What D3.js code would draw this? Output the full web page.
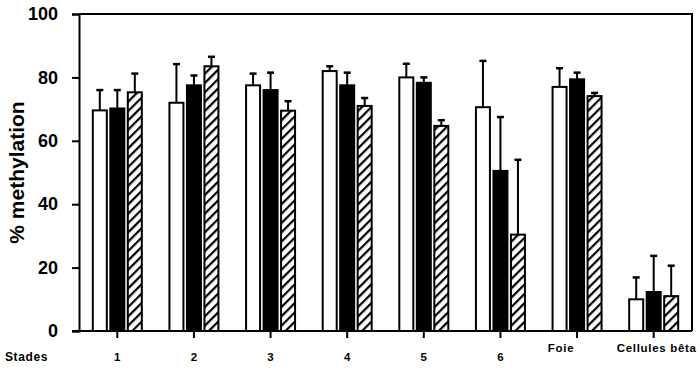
<!DOCTYPE html>
<html>
<head>
<meta charset="utf-8">
<title>% methylation</title>
<style>
body { margin: 0; background: #fff; }
svg text { font-family: "Liberation Sans", Arial, sans-serif; font-weight: bold; }
</style>
<script src="https://d3js.org/d3.v7.min.js"></script>
</head>
<body>
<div id="chart"></div>
<script>
// data
var groups = ['1', '2', '3', '4', '5', '6', 'Foie', 'Cellules bêta'];
var series = ['blanc', 'noir', 'hachure'];
var blanc = [69.6, 72, 77.5, 82, 80, 70.6, 77, 10];
var noir = [70.2, 77.5, 76, 77.5, 78.3, 50.5, 79.4, 12.3];
var hachure = [75.3, 83.5, 69.5, 71, 64.7, 30.4, 74.1, 11];
var blancErr = [76, 84.2, 81.2, 83.5, 84.3, 85.2, 82.9, 16.9];
var noirErr = [76, 80.6, 81.5, 81.5, 80, 67.5, 81.5, 23.7];
var hachureErr = [81.2, 86.5, 72.5, 73.5, 66.5, 54, 75.1, 20.6];
var yTicks = [0, 20, 40, 60, 80, 100];

var W = 700, H = 372;
// plot box (window.top is reserved, so use other names)
var pLeft = 79, pRight = 692, pTop = 14, pBottom = 331;

var svg = d3.select('#chart').append('svg')
    .attr('width', W)
    .attr('height', H);

// hatch pattern
svg.append('defs').append('pattern')
    .attr('id', 'hatch')
    .attr('patternUnits', 'userSpaceOnUse')
    .attr('width', 6.6)
    .attr('height', 6.6)
    .attr('patternTransform', 'rotate(45)')
    .call(function(p){
        p.append('rect').attr('width', 6.6).attr('height', 6.6).attr('fill', '#fff');
        p.append('line').attr('x1', 1).attr('y1', 0).attr('x2', 1).attr('y2', 6.6)
            .attr('stroke', '#000').attr('stroke-width', 2.4);
    });

var x0 = d3.scaleBand().domain(groups).range([pLeft, pRight]);
var bw = x0.bandwidth();
var x1 = d3.scaleBand().domain(series)
    .range([bw / 2 - 24.5, bw / 2 + 24.5])
    .paddingInner(0.2);
var y = d3.scaleLinear().domain([0, 100]).range([pBottom, pTop]);

var fills = { blanc: '#fff', noir: '#000', hachure: 'url(#hatch)' };

var rows = groups.map(function(g, i){
    return [
        { g: g, s: 'blanc', v: blanc[i], e: blancErr[i] },
        { g: g, s: 'noir', v: noir[i], e: noirErr[i] },
        { g: g, s: 'hachure', v: hachure[i], e: hachureErr[i] }
    ];
});

var gg = svg.selectAll('g.grp').data(rows).enter()
    .append('g')
    .attr('class', 'grp')
    .attr('transform', function(d){ return 'translate(' + x0(d[0].g) + ',0)'; });

// error bars (drawn first so the bar outline covers the stem base)
var eb = gg.selectAll('g.err').data(function(d){ return d; }).enter()
    .append('g').attr('class', 'err');
eb.append('line')
    .attr('x1', function(d){ return x1(d.s) + x1.bandwidth() / 2; })
    .attr('x2', function(d){ return x1(d.s) + x1.bandwidth() / 2; })
    .attr('y1', function(d){ return y(d.v); })
    .attr('y2', function(d){ return y(d.e); })
    .attr('stroke', '#000').attr('stroke-width', 2);
eb.append('line')
    .attr('x1', function(d){ return x1(d.s) + x1.bandwidth() / 2 - 3.5; })
    .attr('x2', function(d){ return x1(d.s) + x1.bandwidth() / 2 + 3.5; })
    .attr('y1', function(d){ return y(d.e); })
    .attr('y2', function(d){ return y(d.e); })
    .attr('stroke', '#000').attr('stroke-width', 2.5);

gg.selectAll('rect').data(function(d){ return d; }).enter()
    .append('rect')
    .attr('x', function(d){ return x1(d.s); })
    .attr('y', function(d){ return y(d.v); })
    .attr('width', x1.bandwidth())
    .attr('height', function(d){ return y(0) - y(d.v); })
    .attr('fill', function(d){ return fills[d.s]; })
    .attr('stroke', '#000')
    .attr('stroke-width', 2);

// frame: top and right
svg.append('path')
    .attr('d', 'M' + pLeft + ',' + pTop + 'H' + pRight + 'V' + pBottom)
    .attr('fill', 'none').attr('stroke', '#000').attr('stroke-width', 2);

// y axis
var yAxis = svg.append('g')
    .attr('transform', 'translate(' + pLeft + ',0)')
    .call(d3.axisLeft(y).tickValues(yTicks).tickSize(7).tickPadding(14));
yAxis.select('.domain').attr('stroke-width', 2);
yAxis.selectAll('.tick line').attr('stroke-width', 2);
yAxis.selectAll('.tick text').attr('font-size', 18).attr('fill', '#000');

// x axis
var xAxis = svg.append('g')
    .attr('transform', 'translate(0,' + pBottom + ')')
    .call(d3.axisBottom(x0).tickSize(7).tickSizeOuter(0));
xAxis.select('.domain')
    .attr('d', 'M' + (pLeft - 7) + ',0H' + pRight)
    .attr('stroke-width', 2);
xAxis.selectAll('.tick line').attr('stroke-width', 2);
// the numbered stages sit lower than the two named groups; "Foie" is set left of its tick
xAxis.selectAll('.tick text')
    .attr('font-size', 11.5)
    .attr('letter-spacing', function(d){ return d.length > 1 ? 0.7 : 0; })
    .attr('fill', '#000')
    .attr('dy', 0)
    .attr('x', function(d){ return d === 'Foie' ? -16 : (d.length > 1 ? 3 : 0); })
    .attr('y', function(d){ return d.length > 1 ? 21 : 30; });

svg.append('text')
    .attr('x', 5).attr('y', 361)
    .attr('font-size', 12)
    .attr('letter-spacing', 0.6)
    .text('Stades');

svg.append('text')
    .attr('transform', 'translate(24,' + ((pTop + pBottom) / 2) + ') rotate(-90)')
    .attr('text-anchor', 'middle')
    .attr('font-size', 21)
    .text('% methylation');
</script>
</body>
</html>
